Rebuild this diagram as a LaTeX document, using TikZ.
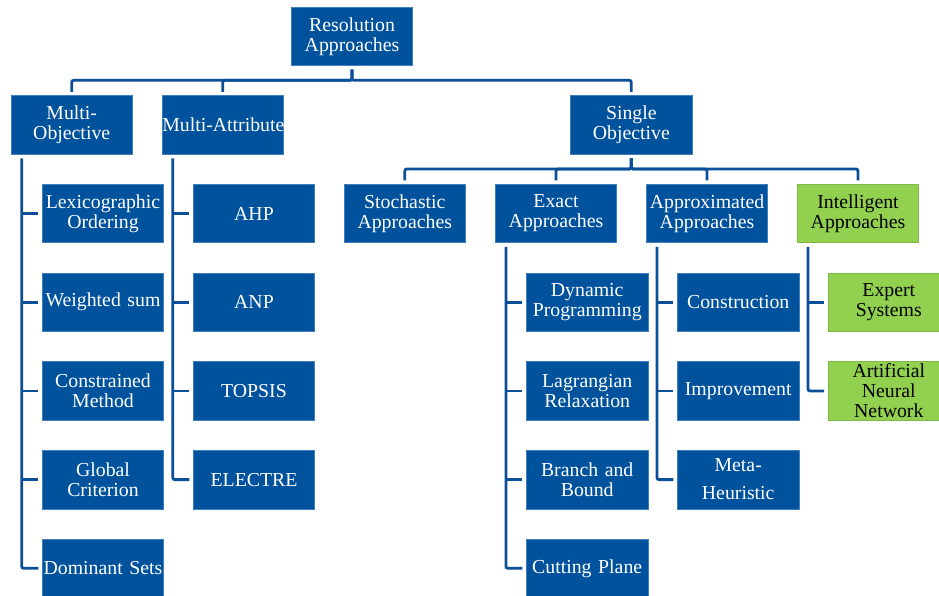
\documentclass[tikz,border=0pt]{standalone}
\usepackage{fontspec}
\setmainfont{Liberation Serif}
\definecolor{boxblue}{HTML}{00529C}
\definecolor{boxedge}{HTML}{3F7FC0}
\definecolor{linkblue}{HTML}{0B4F98}
\definecolor{boxgreen}{HTML}{92D050}
\begin{document}
\begin{tikzpicture}[x=1pt,y=-1pt,
  cat/.style={fill=boxblue,draw=boxedge,line width=0.6pt,rectangle,text=white,
    minimum width=121.5pt,minimum height=58.5pt,text width=121pt,align=center,
    inner xsep=0pt,inner ysep=0pt,outer sep=4pt,font=\fontsize{19.8}{20}\selectfont},
  smart/.style={cat,fill=boxgreen,draw=boxgreen!80!black!60!boxgreen,text=black},
  link/.style={draw=linkblue,line width=2.8pt,rounded corners=2pt}]
\useasboundingbox (0,0) rectangle (939,595);
\def\ra{213.5}
\def\rb{302.2}
\def\rc{390.9}
\def\rd{479.6}
\def\re{568.3}
\def\dv{14.7}
% top levels
\node[cat] (root) at (352,36.3) {Resolution\\Approaches};
\node[cat] (mobj) at (71.7,125) {Multi-\\Objective};
\node[cat] (matt) at (222.8,125) {\mbox{Multi-Attribute}};
\node[cat] (sobj) at (631.3,125) {Single\\Objective};
\node[cat] (stoch) at (404.8,\ra) {Stochastic\\Approaches};
\node[cat] (exact) at (556,\ra) {Exact\\Approaches};
\node[cat] (approx) at (707,\ra) {Approximated\\Approaches};
\node[smart] (intel) at (858,\ra) {Intelligent\\Approaches};
% multi-objective methods
\node[cat] (lex) at (103,\ra) {Lexicographic\\Ordering};
\node[cat] (wsum) at (103,\rb) {Weighted sum};
\node[cat] (cons) at (103,\rc) {Constrained\\Method};
\node[cat] (glob) at (103,\rd) {Global\\Criterion};
\node[cat] (dom) at (103,\re) {Dominant Sets};
% multi-attribute methods
\node[cat] (ahp) at (254,\ra) {AHP};
\node[cat] (anp) at (254,\rb) {ANP};
\node[cat] (topsis) at (254,\rc) {TOPSIS};
\node[cat] (electre) at (254,\rd) {ELECTRE};
% exact methods
\node[cat] (dyn) at (587.2,\rb) {Dynamic\\Programming};
\node[cat] (lag) at (587.2,\rc) {Lagrangian\\Relaxation};
\node[cat] (bnb) at (587.2,\rd) {Branch and\\Bound};
\node[cat] (cut) at (587.2,\re) {Cutting Plane};
% approximated methods
\node[cat] (constr) at (738.2,\rb) {Construction};
\node[cat] (impr) at (738.2,\rc) {Improvement};
\node[cat] (meta) at (738.2,\rd) {Meta-\\[8pt]Heuristic};
% intelligent methods
\node[smart] (expert) at (888.8,\rb) {Expert\\Systems};
\node[smart] (ann) at (888.8,\rc) {Artificial\\Neural\\Network};
% buses
\coordinate (busa) at (0,80.3);
\coordinate (busb) at (0,169);
\draw[link] (root.south) -- (root.south |- busa) -| (mobj.north);
\draw[link] (root.south) -- (root.south |- busa) -| (matt.north);
\draw[link] (root.south) -- (root.south |- busa) -| (sobj.north);
\draw[link] (sobj.south) -- (sobj.south |- busb) -| (stoch.north);
\draw[link] (sobj.south) -- (sobj.south |- busb) -| (exact.north);
\draw[link] (sobj.south) -- (sobj.south |- busb) -| (approx.north);
\draw[link] (sobj.south) -- (sobj.south |- busb) -| (intel.north);
% side branches
\draw[link] ([xshift=\dv]mobj.south west) |- (dom.west);
\draw[link] ([xshift=\dv]mobj.south west |- lex.west) -- (lex.west);
\draw[link] ([xshift=\dv]mobj.south west |- wsum.west) -- (wsum.west);
\draw[link] ([xshift=\dv]mobj.south west |- cons.west) -- (cons.west);
\draw[link] ([xshift=\dv]mobj.south west |- glob.west) -- (glob.west);
\draw[link] ([xshift=\dv]matt.south west) |- (electre.west);
\draw[link] ([xshift=\dv]matt.south west |- ahp.west) -- (ahp.west);
\draw[link] ([xshift=\dv]matt.south west |- anp.west) -- (anp.west);
\draw[link] ([xshift=\dv]matt.south west |- topsis.west) -- (topsis.west);
\draw[link] ([xshift=\dv]exact.south west) |- (cut.west);
\draw[link] ([xshift=\dv]exact.south west |- dyn.west) -- (dyn.west);
\draw[link] ([xshift=\dv]exact.south west |- lag.west) -- (lag.west);
\draw[link] ([xshift=\dv]exact.south west |- bnb.west) -- (bnb.west);
\draw[link] ([xshift=\dv]approx.south west) |- (meta.west);
\draw[link] ([xshift=\dv]approx.south west |- constr.west) -- (constr.west);
\draw[link] ([xshift=\dv]approx.south west |- impr.west) -- (impr.west);
\draw[link] ([xshift=\dv]intel.south west) |- (ann.west);
\draw[link] ([xshift=\dv]intel.south west |- expert.west) -- (expert.west);
\end{tikzpicture}
\end{document}
